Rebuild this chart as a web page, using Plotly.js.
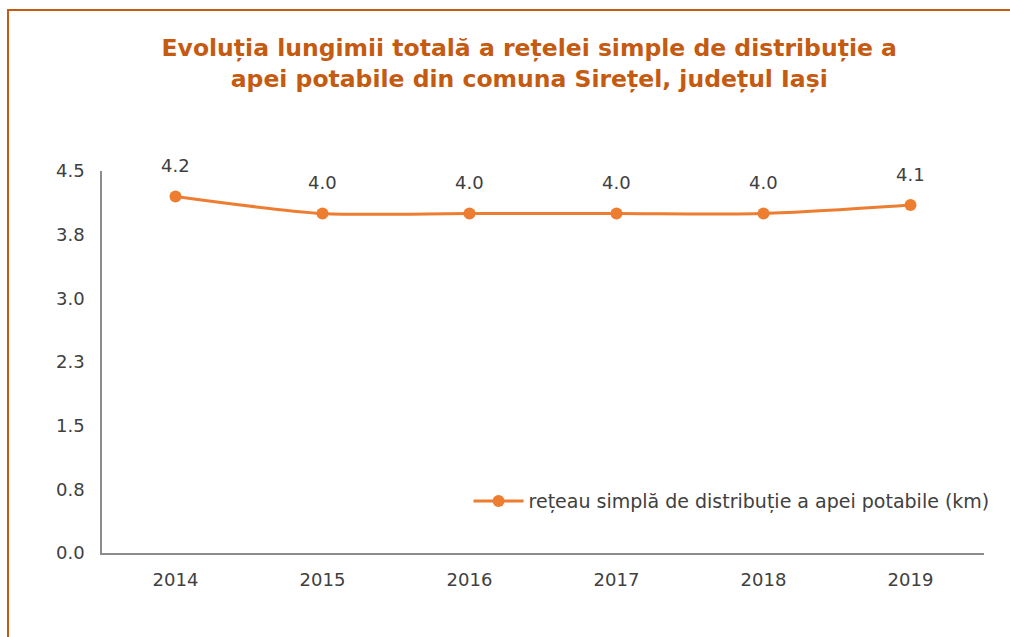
<!DOCTYPE html>
<html>
<head>
<meta charset="utf-8">
<script src="https://cdn.plot.ly/plotly-3.0.1.min.js"></script>
<style>
  html, body { margin: 0; padding: 0; background: #ffffff; }
  #chart { width: 1010px; height: 637px; position: relative; }
  #frame { position: absolute; left: 7px; top: 9px; width: 1100px; height: 700px;
           border-top: 2px solid #C55A11; border-left: 2px solid #C55A11;
           pointer-events: none; }
</style>
</head>
<body>
<div id="chart"></div>
<div id="frame"></div>
<script>
const years = ['2014', '2015', '2016', '2017', '2018', '2019'];
const lengthKm = [4.2, 4.0, 4.0, 4.0, 4.0, 4.1];
const valueLabels = ['4.2', '4.0', '4.0', '4.0', '4.0', '4.1'];
const yTickVals = [0, 0.75, 1.5, 2.25, 3.0, 3.75, 4.5];
const yTickText = ['0.0', '0.8', '1.5', '2.3', '3.0', '3.8', '4.5'];
const seriesName = 'rețeau simplă de distribuție a apei potabile (km)';
const titleText = 'Evoluția lungimii totală a rețelei simple de distribuție a<br>apei potabile din comuna Sirețel, județul Iași';

const FONT = 'DejaVu Sans, sans-serif';
const TXT = '#404040';
const ORANGE = '#ED7D31';

const trace = {
  x: years,
  y: lengthKm,
  type: 'scatter',
  mode: 'lines+markers',
  name: seriesName,
  line: { color: ORANGE, width: 3, shape: 'spline', smoothing: 0.8 },
  marker: { color: ORANGE, size: 12 },
  hoverinfo: 'x+y'
};

// category axis annotations use category index positions
const annotations = years.map((yr, i) => ({
  x: i, y: lengthKm[i], xref: 'x', yref: 'y',
  text: valueLabels[i], showarrow: false,
  yanchor: 'bottom', yshift: 18,
  font: { family: FONT, size: 18, color: TXT }
}));

const layout = {
  width: 1010, height: 637,
  paper_bgcolor: '#ffffff', plot_bgcolor: '#ffffff',
  margin: { l: 102, r: 26, t: 171, b: 84 },
  title: {
    text: '<b>' + titleText + '</b>',
    font: { family: FONT, size: 23.5, color: '#C55A11' },
    x: 0.524, xanchor: 'center', xref: 'container',
    y: 0.912, yanchor: 'top', yref: 'container'
  },
  xaxis: {
    type: 'category', range: [-0.5, 5.5],
    showgrid: false, zeroline: false,
    showline: true, linecolor: '#8c8c8c', linewidth: 1.5,
    ticks: '', ticklabelstandoff: 10,
    tickfont: { family: FONT, size: 18, color: TXT }
  },
  yaxis: {
    range: [0, 4.5], tickvals: yTickVals, ticktext: yTickText,
    showgrid: false, zeroline: false,
    showline: true, linecolor: '#8c8c8c', linewidth: 1.5,
    ticks: '', ticklabelstandoff: 12,
    tickfont: { family: FONT, size: 18, color: TXT }
  },
  showlegend: true,
  legend: {
    x: 1.012, xanchor: 'right', y: 0.136, yanchor: 'middle',
    bgcolor: 'rgba(0,0,0,0)',
    font: { family: FONT, size: 19, color: TXT },
    itemwidth: 50
  },
  annotations: annotations
};

Plotly.newPlot('chart', [trace], layout, { displayModeBar: false, responsive: false });
</script>
</body>
</html>
